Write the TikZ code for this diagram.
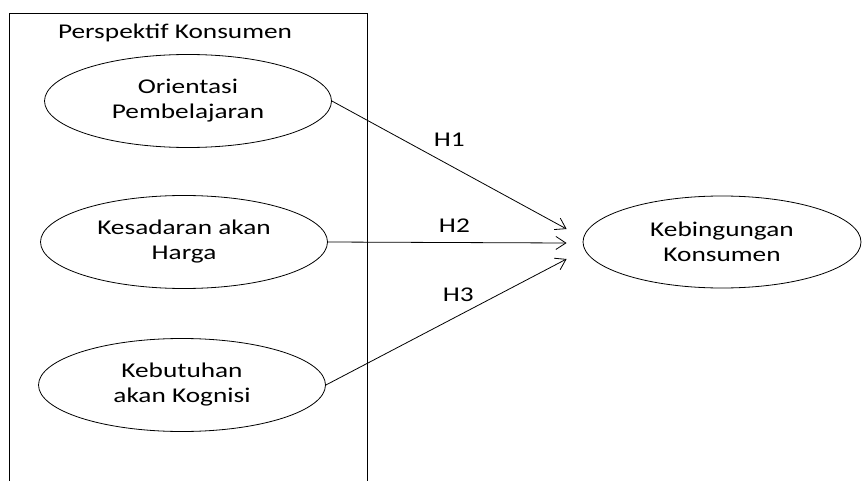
\documentclass[tikz,border=0pt]{standalone}
\usepackage{fontspec}
\setmainfont{Carlito}[FakeStretch=1.3]
\usetikzlibrary{shapes.geometric, arrows.meta, positioning}
\tikzstyle{construct} = [ellipse, minimum width=143.5pt, minimum height=46.5pt, inner sep=0pt, align=center, draw=black, font=\fontsize{10.5}{12.5}\selectfont]
\tikzstyle{hlabel} = [font=\fontsize{10.5}{12.5}\selectfont]
\tikzstyle{arrow} = [-{Straight Barb[length=5pt,width=6.5pt]}]

\begin{document}
\begin{tikzpicture}[x=1pt, y=1pt, node distance=70.5pt]
                \useasboundingbox (0,0) rectangle (431,-240.5);
                % perspektif konsumen box (open at the bottom)
                \draw (4.5,-240.5) -- (4.5,-6.5) -- (183.5,-6.5) -- (183.5,-240.5);
                \node (perspektif) at (87.5,-16.5) [hlabel] {Perspektif Konsumen};
                \node (orientasi) at (94,-50.5) [construct] {Orientasi\\Pembelajaran};
                \node (kesadaran) [construct, below of=orientasi, xshift=-2pt] {Kesadaran akan\\Harga};
                \node (kebutuhan) [construct, below of=kesadaran, node distance=71.5pt, xshift=-1pt] {Kebutuhan\\akan Kognisi};
                \node (kebingungan) [construct, right of=kesadaran, node distance=269pt, minimum width=139pt, minimum height=46pt] {Kebingungan\\Konsumen};
                \coordinate (in1) at ([xshift=-8pt, yshift=6.5pt]kebingungan.west);
                \coordinate (in2) at ([xshift=-8pt, yshift=-0.5pt]kebingungan.west);
                \coordinate (in3) at ([xshift=-8pt, yshift=-8.5pt]kebingungan.west);
                \draw [arrow] (orientasi.east) -- node[hlabel, above=5.5pt, pos=0.5] {H1} (in1);
                \draw [arrow] (kesadaran.east) -- node[hlabel, above=1.5pt, pos=0.53] {H2} (in2);
                \draw [arrow] (kebutuhan.east) -- node[hlabel, above=3.5pt, pos=0.55] {H3} (in3);
            \end{tikzpicture}
\end{document}
